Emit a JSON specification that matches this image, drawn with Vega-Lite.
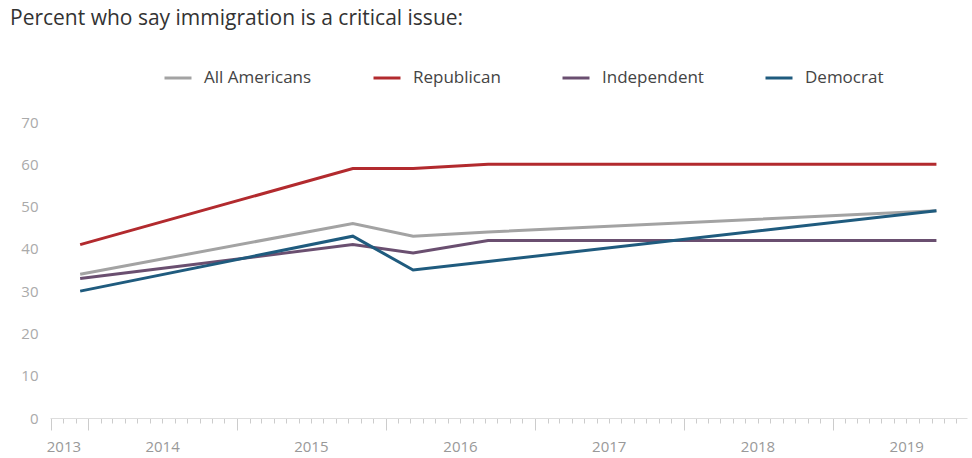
{
  "$schema": "https://vega.github.io/schema/vega-lite/v6.json",
  "autosize": "none",
  "width": 917,
  "height": 296,
  "padding": {"left": 50, "top": 122, "right": 5, "bottom": 40},
  "background": "white",
  "title": {
    "text": "Percent who say immigration is a critical issue:",
    "anchor": "start",
    "frame": "group",
    "font": "Open Sans",
    "fontSize": 21,
    "fontWeight": "normal",
    "color": "#333333",
    "dx": -40,
    "offset": 34
  },
  "config": {
    "view": {"stroke": null},
    "font": "Open Sans"
  },
  "data": {
    "values": [
      {"date": "2013-12-12", "group": "All Americans", "pct": 34},
      {"date": "2015-10-12", "group": "All Americans", "pct": 46},
      {"date": "2016-03-08", "group": "All Americans", "pct": 43},
      {"date": "2016-09-08", "group": "All Americans", "pct": 44},
      {"date": "2019-09-13", "group": "All Americans", "pct": 49},
      {"date": "2013-12-12", "group": "Republican", "pct": 41},
      {"date": "2015-10-12", "group": "Republican", "pct": 59},
      {"date": "2016-03-08", "group": "Republican", "pct": 59},
      {"date": "2016-09-08", "group": "Republican", "pct": 60},
      {"date": "2019-09-13", "group": "Republican", "pct": 60},
      {"date": "2013-12-12", "group": "Independent", "pct": 33},
      {"date": "2015-10-12", "group": "Independent", "pct": 41},
      {"date": "2016-03-08", "group": "Independent", "pct": 39},
      {"date": "2016-09-08", "group": "Independent", "pct": 42},
      {"date": "2019-09-13", "group": "Independent", "pct": 42},
      {"date": "2013-12-12", "group": "Democrat", "pct": 30},
      {"date": "2015-10-12", "group": "Democrat", "pct": 43},
      {"date": "2016-03-08", "group": "Democrat", "pct": 35},
      {"date": "2016-09-08", "group": "Democrat", "pct": 37},
      {"date": "2019-09-13", "group": "Democrat", "pct": 49}
    ]
  },
  "mark": {"type": "line", "strokeWidth": 3, "clip": true},
  "encoding": {
    "x": {
      "field": "date",
      "type": "temporal",
      "scale": {
        "type": "utc",
        "domain": [
          {"year": 2013, "month": 9, "date": 29, "utc": true},
          {"year": 2019, "month": 11, "date": 27, "utc": true}
        ]
      },
      "axis": {
        "title": null,
        "tickCount": {"interval": "month", "step": 1},
        "grid": false,
        "domain": true,
        "domainColor": "#dddddd",
        "domainWidth": 1,
        "ticks": true,
        "tickColor": "#cccccc",
        "tickWidth": 1,
        "tickSize": {
          "condition": {"test": "utcmonth(datum.value) == 0 || (utcyear(datum.value) == 2013 && utcmonth(datum.value) == 9)", "value": 12},
          "value": 5
        },
        "labelExpr": "(utcmonth(datum.value) == 6 || (utcyear(datum.value) == 2013 && utcmonth(datum.value) == 10)) ? utcFormat(datum.value, '%Y') : ''",
        "labelOverlap": false,
        "labelBound": false,
        "labelFlush": false,
        "labelFont": "Open Sans",
        "labelFontSize": 15,
        "labelColor": "#999999",
        "labelPadding": 16
      }
    },
    "y": {
      "field": "pct",
      "type": "quantitative",
      "scale": {"domain": [0, 70]},
      "axis": {
        "title": null,
        "values": [0, 10, 20, 30, 40, 50, 60, 70],
        "grid": false,
        "domain": false,
        "ticks": false,
        "labelFont": "Open Sans",
        "labelFontSize": 15,
        "labelColor": "#aaaaaa",
        "labelPadding": 12
      }
    },
    "color": {
      "field": "group",
      "type": "nominal",
      "scale": {
        "domain": ["All Americans", "Republican", "Independent", "Democrat"],
        "range": ["#a3a3a3", "#b22a2e", "#6a4f70", "#1f5b7e"]
      },
      "legend": {
        "title": null,
        "orient": "none",
        "direction": "horizontal",
        "columns": 4,
        "legendX": 113,
        "legendY": -59,
        "symbolType": "stroke",
        "symbolStrokeWidth": 3,
        "symbolSize": 729,
        "labelFont": "Open Sans",
        "labelFontSize": 17,
        "labelColor": "#444444",
        "labelOffset": 11,
        "columnPadding": 55,
        "padding": 0
      }
    }
  }
}
